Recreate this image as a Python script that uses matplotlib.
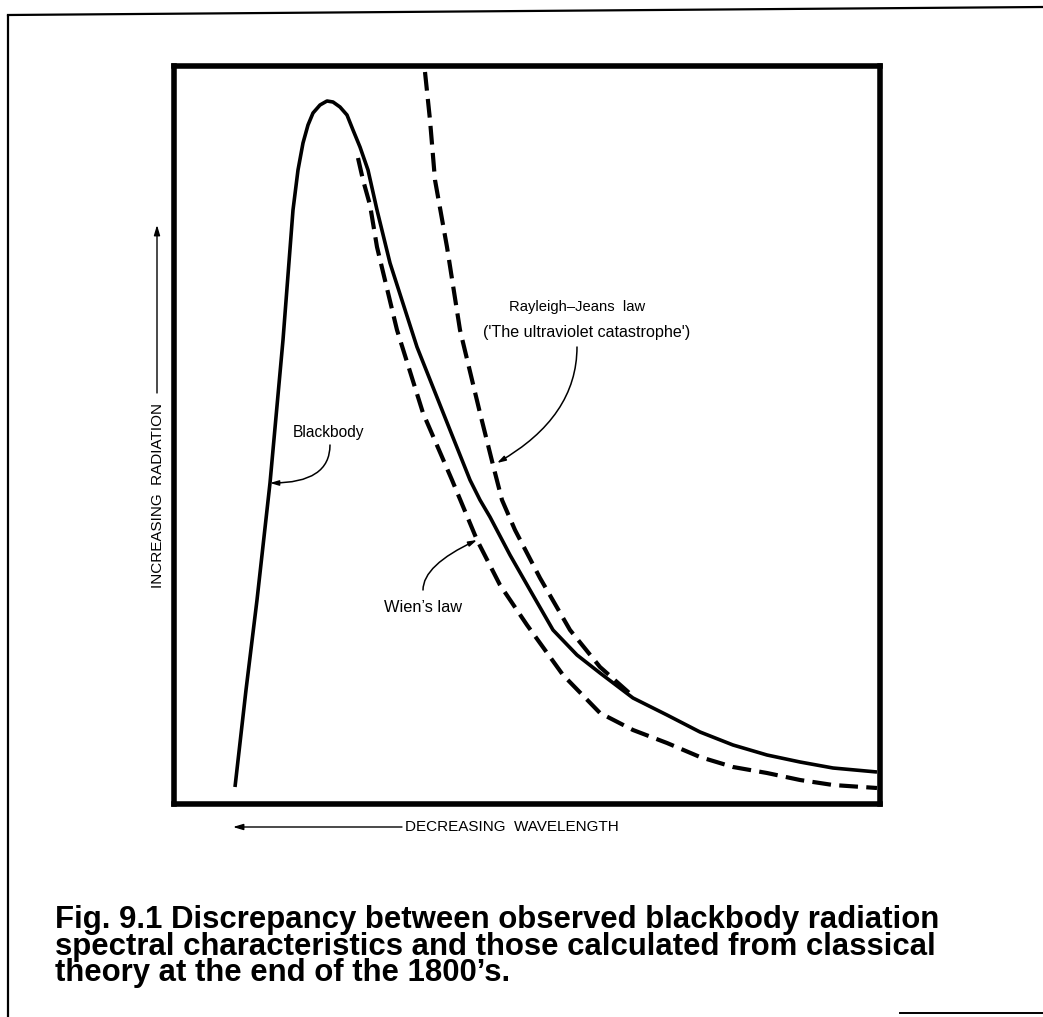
import matplotlib
matplotlib.use("Agg")
import matplotlib.pyplot as plt

W, H = 1043, 1017

# ---- data (arbitrary units: wavelength position, radiation) ----
bb_x = [61, 72, 83, 96, 109, 119, 124, 129, 134, 139, 146, 153, 159, 166, 173,
        179, 186, 194, 203, 216, 243, 276, 296, 306, 316, 336, 356, 379, 403,
        426, 459, 493, 526, 559, 593, 626, 659, 703]
bb_y = [17, 114, 204, 321, 464, 594, 634, 661, 679, 691, 699, 703, 702, 697, 689,
        674, 657, 634, 594, 541, 457, 374, 324, 304, 287, 249, 214, 174, 149,
        131, 106, 89, 72, 59, 49, 42, 36, 32]

wien_x = [184, 189, 196, 203, 223, 249, 278, 303, 326, 353, 389, 426, 459, 493,
          526, 559, 593, 626, 659, 703]
wien_y = [646, 624, 599, 557, 474, 391, 324, 264, 219, 179, 129, 91, 74, 61,
          47, 37, 31, 24, 19, 16]

rj_x = [251, 256, 261, 273, 286, 306, 319, 328, 341, 366, 396, 426, 461]
rj_y = [732, 684, 624, 557, 474, 391, 339, 304, 274, 226, 174, 137, 106]

caption = ["Fig. 9.1 Discrepancy between observed blackbody radiation",
           "spectral characteristics and those calculated from classical",
           "theory at the end of the 1800\u2019s."]

cap_font = "Liberation Sans"
lab_font = "Liberation Sans"

fig = plt.figure(figsize=(W / 100, H / 100), dpi=100)
fig.patch.set_facecolor("white")

# overlay in pixel coordinates for frame and captions
ov = fig.add_axes([0, 0, 1, 1])
ov.set_xlim(0, W)
ov.set_ylim(H, 0)
ov.axis("off")
ov.plot([8, 8], [15, H], color="black", lw=1.6, solid_capstyle="butt")
ov.plot([8, W], [15, 7], color="black", lw=1.6)
ov.plot([900, W], [1013, 1013], color="black", lw=1.4)

ov.text(55, 981, "\n".join(caption), fontsize=22.4, fontweight="bold",
        family=cap_font, ha="left", va="baseline", color="black",
        linespacing=0.84)

# axis labels with arrows
ov.text(158, 495, "INCREASING  RADIATION", rotation=90, fontsize=11,
        family=lab_font, ha="center", va="center")
ov.annotate("", xy=(157, 225), xytext=(157, 393),
            arrowprops=dict(arrowstyle="-|>,head_length=0.6,head_width=0.18",
                            color="black", lw=1.0, shrinkA=0, shrinkB=0))
ov.text(405, 827, "DECREASING  WAVELENGTH", fontsize=11, family=lab_font,
        ha="left", va="center")
ov.annotate("", xy=(233, 827), xytext=(402, 827),
            arrowprops=dict(arrowstyle="-|>,head_length=0.6,head_width=0.18",
                            color="black", lw=1.0, shrinkA=0, shrinkB=0))

# main axes
left, right, top, bottom = 174, 880, 66, 804
ax = fig.add_axes([left / W, 1 - bottom / H, (right - left) / W, (bottom - top) / H])
ax.set_xlim(0, right - left)
ax.set_ylim(0, bottom - top)
ax.set_xticks([])
ax.set_yticks([])
for s in ax.spines.values():
    s.set_linewidth(4.0)
    s.set_color("black")
ax.patch.set_alpha(0)

ax.plot(bb_x, bb_y, color="black", lw=2.6, solid_joinstyle="round",
        solid_capstyle="butt")
ax.plot(wien_x, wien_y, color="black", lw=3.0, dashes=(4.5, 2.0),
        dash_capstyle="butt", dash_joinstyle="round")
ax.plot(rj_x, rj_y, color="black", lw=3.0, dashes=(4.5, 2.0),
        dash_capstyle="butt", dash_joinstyle="round")

# annotations
def label(x, y, s, size=11.2):
    ax.text(x - left, bottom - y, s, fontsize=size, family=lab_font,
            ha="center", va="center")

label(328, 432, "Blackbody")
label(577, 307, "Rayleigh\u2013Jeans  law", 10.6)
label(587, 333, "('The ultraviolet catastrophe')", 11.6)
label(423, 607, "Wien\u2019s law", 11.8)

def arrow(sx, sy, ex, ey, angB):
    ax.annotate("", xy=(ex - left, bottom - ey), xytext=(sx - left, bottom - sy),
                arrowprops=dict(arrowstyle="-|>,head_length=0.5,head_width=0.15",
                                color="black", lw=1.1, shrinkA=0, shrinkB=0,
                                connectionstyle=f"angle3,angleA=90,angleB={angB}"))

arrow(330, 445, 270, 483, 0)
arrow(577, 347, 497, 463, 30)
arrow(423, 590, 477, 540, 25)

fig.savefig("out.png", dpi=100, facecolor="white")
